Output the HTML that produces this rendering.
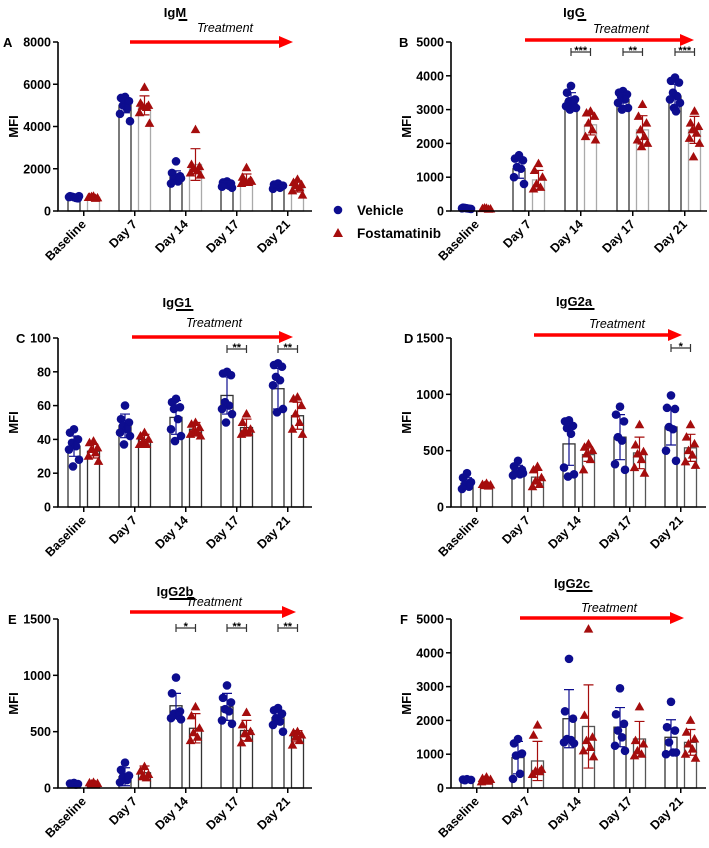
<!DOCTYPE html>
<html><head><meta charset="utf-8">
<style>
html,body{margin:0;padding:0;background:#fff;}
svg{display:block;font-family:"Liberation Sans",Arial,sans-serif;}
</style></head>
<body>
<svg id="fig" width="709" height="848" viewBox="0 0 709 848"></svg>
<script>
const categories = ["Baseline","Day 7","Day 14","Day 17","Day 21"];

// Panel A IgM
const aVehMean = [650,5000,1600,1250,1200];
const aFosMean = [650,5000,2200,1500,1150];
const aVehSd = [50,350,300,150,100];
const aFosSd = [60,450,750,250,250];
const aVehPts = [[650,700,600,680,620,660,700],[5400,5350,5200,5000,4850,4600,4250,5300],[2350,1800,1650,1500,1400,1300,1550],[1400,1350,1300,1250,1200,1150,1100],[1300,1250,1200,1250,1100,1050,1200]];
const aFosPts = [[700,650,620,680,600,640],[5850,5100,5000,4950,4900,4650,4150],[3850,2200,2100,2000,1900,1800,1700],[2050,1600,1450,1400,1350,1300,1400],[1500,1350,1250,1200,1100,950,750]];
const aTicks = [0,2000,4000,6000,8000];
const aSig = ["","","","",""];

// Panel B IgG
const bVehMean = [80,1250,3250,3300,3400];
const bFosMean = [70,920,2550,2400,2400];
const bVehSd = [20,280,250,180,350];
const bFosSd = [20,280,300,420,400];
const bVehPts = [[80,100,60,90,70,80],[1650,1550,1500,1300,1250,1000,800],[3700,3500,3300,3250,3200,3100,3050,3000],[3550,3500,3450,3400,3300,3200,3050,3000],[3950,3850,3800,3500,3400,3300,3200,3050,2950]];
const bFosPts = [[80,70,60,90,50],[1400,1200,1000,800,700,650],[2950,2900,2800,2600,2400,2200,2100],[3150,2800,2600,2400,2200,2100,2000,1900],[2950,2600,2500,2400,2300,2150,2000,1600]];
const bTicks = [0,1000,2000,3000,4000,5000];
const bSig = ["","","***","**","***"];

// Panel C IgG1
const cVehMean = [36,48,53,66,70];
const cFosMean = [33,40,46,47,54];
const cVehSd = [6,7,10,11,12];
const cFosSd = [4,3,4,5,8];
const cVehPts = [[46,44,40,38,36,34,28,24],[60,52,50,48,46,44,42,37],[64,62,59,58,52,46,42,39],[80,79,78,62,60,58,55,50],[85,84,83,77,75,72,58,56]];
const cFosPts = [[39,38,35,34,32,30,27],[44,42,40,38,37,37],[50,49,47,45,44,43,42],[55,50,46,45,44,43],[65,64,60,55,50,46,43]];
const cTicks = [0,20,40,60,80,100];
const cSig = ["","","","**","**"];

// Panel D IgG2a
const dVehMean = [210,320,560,620,710];
const dFosMean = [195,265,465,480,525];
const dVehSd = [50,50,190,200,160];
const dFosSd = [10,60,60,140,120];
const dVehPts = [[300,260,220,200,180,160],[410,360,330,300,290,280,300],[770,760,720,700,650,350,290,270],[890,820,760,620,590,380,330],[990,880,870,710,690,500,410]];
const dFosPts = [[210,200,195,190,185],[360,330,260,230,200,180],[560,530,500,470,420,330],[730,550,490,470,420,350,300],[730,620,560,500,460,400,370]];
const dTicks = [0,500,1000,1500];
const dSig = ["","","","","*"];

// Panel E IgG2b
const eVehMean = [40,100,730,720,625];
const eFosMean = [40,135,530,510,460];
const eVehSd = [10,80,110,120,60];
const eFosSd = [10,60,130,90,50];
const eVehPts = [[45,40,35,40,30],[225,160,110,100,70,50],[980,840,680,660,640,620,610],[910,800,760,700,680,600,570],[710,690,660,620,590,560,500]];
const eFosPts = [[50,45,40,35,30],[190,150,120,100,90],[720,640,530,490,450,420],[670,560,500,480,440,400],[500,490,470,450,420,380]];
const eTicks = [0,500,1000,1500];
const eSig = ["","","*","**","**"];

// Panel F IgG2c
const fVehMean = [250,900,2050,1800,1500];
const fFosMean = [230,800,1820,1450,1350];
const fVehSd = [30,480,860,580,520];
const fFosSd = [60,580,1230,520,380];
const fVehPts = [[260,250,240,230],[1450,1320,1020,960,420,270],[3820,2270,2050,1450,1420,1350,1320],[2950,2180,1900,1700,1500,1250,1100],[2550,1800,1700,1350,1050,1000,1050]];
const fFosPts = [[320,280,250,230,200,180],[1860,1560,550,500,480,400],[4700,2150,1500,1400,1200,1100,920],[2400,1400,1300,1100,1000,950],[2000,1650,1450,1300,1150,1000,880]];
const fTicks = [0,1000,2000,3000,4000,5000];
const fSig = ["","","","",""];

const NS = "http://www.w3.org/2000/svg";
const svg = document.getElementById("fig");
const VEH = "#0d0d8f", FOS = "#a50d0d";
function mk(tag, attrs, parent, text){
  const e = document.createElementNS(NS, tag);
  for (const k in attrs) e.setAttribute(k, attrs[k]);
  if (text !== undefined) e.textContent = text;
  (parent||svg).appendChild(e);
  return e;
}
const jit = [0,-4,4,-2,2,-5,5,-1,1];

function panel(p){
  const g = mk("g", {});
  
  
  const yMax = p.ticks[p.ticks.length-1];
  const y = v => p.bot - (v / yMax) * (p.bot - p.top);
  const xv = i => p.x0 + 16 + i * p.sp;
  const xf = i => xv(i) + 19.5;
  const t = mk("text", {x:p.tx, y:p.ty, "text-anchor":"middle", "font-size":"13", "font-weight":"bold"}, g, p.title);
  
  
  const uw = p.ul * 8.7;
  const ul = mk("line", {x1:p.tx + (p.title.length*8.2)/2 - uw, x2:p.tx + (p.title.length*8.2)/2, y1:p.ty+3, y2:p.ty+3, stroke:"#000","stroke-width":2}, g);
  
  
  const tt = mk("text", {x:p.trx, y:p.try_, "text-anchor":"middle", "font-size":"12.5", "font-style":"italic"}, g, "Treatment");
  
  
  const ar = mk("line", {x1:p.a1, x2:p.a2-12, y1:p.ay, y2:p.ay, stroke:"#f00","stroke-width":3.5}, g);
  
  
  const ah = mk("polygon", {points:`${p.a2-14},${p.ay-6} ${p.a2},${p.ay} ${p.a2-14},${p.ay+6}`, fill:"#f00"}, g);
  
  
  const lt = mk("text", {x:p.lx, y:p.top+5, "font-size":"13", "font-weight":"bold"}, g, p.letter);
  
  
  p.ticks.forEach(v => {
    const tl = mk("text", {x:p.x0-7, y:y(v)+4.5, "text-anchor":"end", "font-size":"12.5", "font-weight":"bold"}, g, String(v));
    
    
    mk("line", {x1:p.x0-5, x2:p.x0, y1:y(v), y2:y(v), stroke:"#000","stroke-width":1.5}, g);
  });
  const yl = mk("text", {x:0, y:0, transform:`translate(${p.x0-40},${(p.top+p.bot)/2}) rotate(-90)`, "text-anchor":"middle", "font-size":"13", "font-weight":"bold"}, g, "MFI");
  
  
  function group(xc, mean, sd, pts, col, stroke, shape){
    const b = mk("rect", {x:xc-6, y:y(mean), width:12, height:p.bot-y(mean), fill:"#fff", stroke:stroke, "stroke-width":1.3}, g);
    
    
    pts.forEach((v,k) => {
      const px = xc + jit[k % jit.length], py = y(v);
      let m;
      if (shape === "c") m = mk("circle", {cx:px, cy:py, r:4.3, fill:col}, g);
      else m = mk("polygon", {points:`${px},${py-5} ${px+4.8},${py+3.5} ${px-4.8},${py+3.5}`, fill:col}, g);
      
      
    });
    const e = mk("path", {d:`M${xc},${y(mean+sd)}V${y(mean-sd)}M${xc-5},${y(mean+sd)}H${xc+5}M${xc-5},${y(mean-sd)}H${xc+5}`, stroke:col, "stroke-width":1.2, fill:"none"}, g);
    
    
  }
  categories.forEach((c,i) => {
    group(xv(i), p.vm[i], p.vs[i], p.vp[i], VEH, "#333", "c");
    group(xf(i), p.fm[i], p.fs[i], p.fp[i], FOS, p.fosStroke, "t");
    const cx = (xv(i)+xf(i))/2;
    mk("line", {x1:cx, x2:cx, y1:p.bot, y2:p.bot+5, stroke:"#000","stroke-width":1.5}, g);
    const xl = mk("text", {x:0, y:0, transform:`translate(${cx+3},${p.bot+14}) rotate(-45)`, "text-anchor":"end", "font-size":"12.5", "font-weight":"bold"}, g, c);
    
    
    if (p.sig[i]) {
      const s = mk("path", {d:`M${xv(i)},${p.by}H${xf(i)}M${xv(i)},${p.by-4}V${p.by+4}M${xf(i)},${p.by-4}V${p.by+4}`, stroke:"#333","stroke-width":1.2,fill:"none"}, g);
      
      
      const st = mk("text", {x:cx, y:p.by+2, "text-anchor":"middle", "font-size":"11", "font-weight":"bold"}, g, p.sig[i]);
      
      
    }
  });
  mk("path", {d:`M${p.x0},${p.top}V${p.bot}H${p.x1}`, stroke:"#000","stroke-width":1.6,fill:"none"}, g);
}

panel({letter:"A", title:"IgM", ul:1, tx:175, ty:17, trx:225, try_:32, a1:130, a2:293, ay:42, lx:3, x0:58, x1:312, top:42, bot:211, sp:51,
  ticks:aTicks, vm:aVehMean, fm:aFosMean, vs:aVehSd, fs:aFosSd, vp:aVehPts, fp:aFosPts, sig:aSig, fosStroke:"#aaa", by:0});
panel({letter:"B", title:"IgG", ul:1, tx:574, ty:17, trx:621, try_:33, a1:525, a2:694, ay:40, lx:399, x0:451, x1:707, top:42, bot:211, sp:52,
  ticks:bTicks, vm:bVehMean, fm:bFosMean, vs:bVehSd, fs:bFosSd, vp:bVehPts, fp:bFosPts, sig:bSig, fosStroke:"#aaa", by:52});
panel({letter:"C", title:"IgG1", ul:2, tx:177, ty:307, trx:214, try_:327, a1:132, a2:293, ay:337, lx:16, x0:58, x1:312, top:338, bot:507, sp:51,
  ticks:cTicks, vm:cVehMean, fm:cFosMean, vs:cVehSd, fs:cFosSd, vp:cVehPts, fp:cFosPts, sig:cSig, fosStroke:"#333", by:349});
panel({letter:"D", title:"IgG2a", ul:3, tx:574, ty:306, trx:617, try_:328, a1:534, a2:682, ay:335, lx:404, x0:451, x1:706, top:338, bot:507, sp:51,
  ticks:dTicks, vm:dVehMean, fm:dFosMean, vs:dVehSd, fs:dFosSd, vp:dVehPts, fp:dFosPts, sig:dSig, fosStroke:"#555", by:348});
panel({letter:"E", title:"IgG2b", ul:3, tx:175, ty:596, trx:214, try_:606, a1:130, a2:296, ay:612, lx:8, x0:58, x1:312, top:619, bot:788, sp:51,
  ticks:eTicks, vm:eVehMean, fm:eFosMean, vs:eVehSd, fs:eFosSd, vp:eVehPts, fp:eFosPts, sig:eSig, fosStroke:"#333", by:628});
panel({letter:"F", title:"IgG2c", ul:3, tx:572, ty:588, trx:609, try_:612, a1:520, a2:684, ay:618, lx:400, x0:451, x1:706, top:619, bot:788, sp:51,
  ticks:fTicks, vm:fVehMean, fm:fFosMean, vs:fVehSd, fs:fFosSd, vp:fVehPts, fp:fFosPts, sig:fSig, fosStroke:"#555", by:0});

const lg = mk("g", {});


const lc = mk("circle", {cx:338, cy:210, r:4.3, fill:VEH}, lg);


const lt1 = mk("text", {x:357, y:215, "font-size":"13.5", "font-weight":"bold"}, lg, "Vehicle");


const ltr = mk("polygon", {points:"338,228 343,237 333,237", fill:FOS}, lg);


const lt2 = mk("text", {x:357, y:238, "font-size":"13.5", "font-weight":"bold"}, lg, "Fostamatinib");


</script>
</body></html>
